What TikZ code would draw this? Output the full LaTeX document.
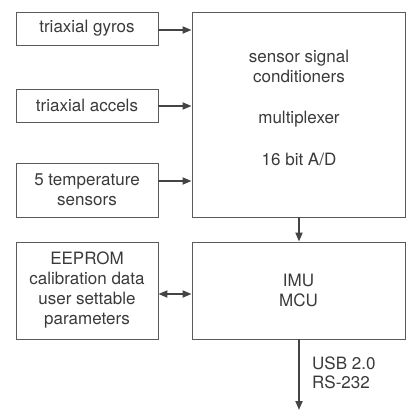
\documentclass[tikz,border=0pt]{standalone}
\usepackage{fontspec}
\setmainfont{TeX Gyre Heros}
\usetikzlibrary{arrows.meta}
\definecolor{txt}{HTML}{3A3A3A}
\definecolor{ln}{HTML}{5A5A5A}
\definecolor{ar}{HTML}{444444}
\begin{document}
\begin{tikzpicture}[x=1pt,y=-1pt,
  blk/.style={draw=ln,line width=0.9pt,rectangle,inner sep=0pt,text=txt,align=center,
    font=\fontsize{17}{20}\selectfont},
  lbl/.style={inner sep=0pt,text=txt,align=center,font=\fontsize{17}{19.5}\selectfont},
  conn/.style={draw=ar,line width=1.8pt,-{Triangle[length=9pt,width=7pt]}},
  bconn/.style={draw=ar,line width=1.8pt,{Triangle[length=9pt,width=7pt]}-{Triangle[length=9pt,width=7pt]}}]
\useasboundingbox (0,0) rectangle (406,411);
\node[blk,minimum width=142pt,minimum height=33pt] (gyro) at (87,28.5) {triaxial gyros};
\node[blk,minimum width=142pt,minimum height=33pt] (acc) at (87,105.5) {triaxial accels};
\node[blk,minimum width=142pt,minimum height=54pt] (temp) at (87,190) {5 temperature\\sensors};
\node[blk,minimum width=213pt,minimum height=205pt] (sig) at (298.5,114.5) {};
\node[lbl] (sigtxt) at (299,108) {sensor signal\\conditioners\\[22pt]multiplexer\\[22pt]16 bit A/D};
\node[blk,minimum width=142pt,minimum height=97pt] (eep) at (87,290.5) {EEPROM\\calibration data\\user settable\\parameters};
\node[blk,minimum width=213pt,minimum height=97pt] (mcu) at (298.5,290.5) {IMU\\MCU};
\coordinate (out) at (299,410);
\node[lbl,anchor=west,align=left] (bus) at (312,373) {USB 2.0\\RS-232};
\draw[conn] ([yshift=-1.5pt]gyro.east) -- ([yshift=-1.5pt]gyro.east -| sig.west);
\draw[conn] ([yshift=-0.5pt]acc.east) -- ([yshift=-0.5pt]acc.east -| sig.west);
\draw[conn] ([yshift=9pt]temp.east) -- ([yshift=9pt]temp.east -| sig.west);
\draw[conn] (sig.south -| out) -- (mcu.north -| out);
\draw[bconn] ([yshift=-3.5pt]eep.east) -- ([yshift=-3.5pt]mcu.west);
\draw[conn] (mcu.south -| out) -- (out);
\end{tikzpicture}
\end{document}
